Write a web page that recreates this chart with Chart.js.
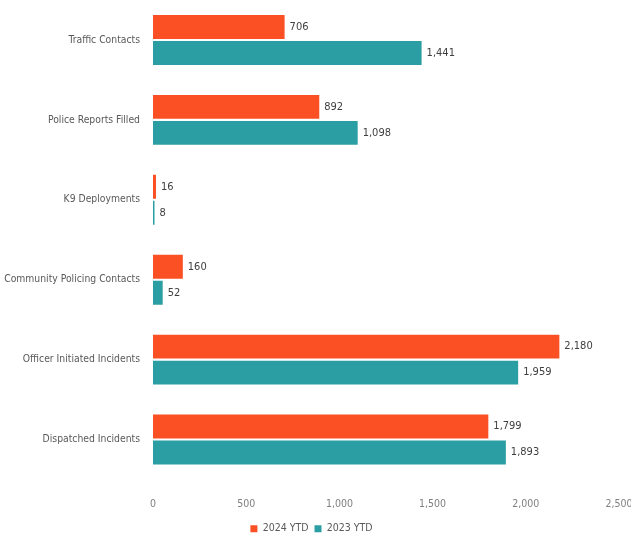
<!DOCTYPE html>
<html>
<head>
<meta charset="utf-8">
<script src="https://cdn.jsdelivr.net/npm/chart.js@4"></script>
<style>
  html, body { margin: 0; padding: 0; background: #fff; }
  #wrap { width: 631px; height: 543px; }
</style>
</head>
<body>
<div id="wrap"><canvas id="myChart" width="631" height="543"></canvas></div>
<script>
const categories = [
  "Traffic Contacts",
  "Police Reports Filled",
  "K9 Deployments",
  "Community Policing Contacts",
  "Officer Initiated Incidents",
  "Dispatched Incidents",
];
const ytd2024 = [706, 892, 16, 160, 2180, 1799];
const ytd2023 = [1441, 1098, 8, 52, 1959, 1893];
const xTicks = [0, 500, 1000, 1500, 2000, 2500];

const orange = "#fb4f24";
const teal = "#2a9ea2";
const fontFam = "'DejaVu Sans Condensed', 'Liberation Sans', sans-serif";

// writes the value at the end of each bar
const barValues = {
  id: "barValues",
  afterDatasetsDraw(chart) {
    const ctx = chart.ctx;
    ctx.save();
    ctx.font = "11px " + fontFam;
    ctx.fillStyle = "#404040";
    ctx.textBaseline = "middle";
    ctx.textAlign = "left";
    chart.data.datasets.forEach((ds, i) => {
      chart.getDatasetMeta(i).data.forEach((bar, j) => {
        ctx.fillText(ds.data[j].toLocaleString("en-US"), bar.x + 5, bar.y);
      });
    });
    ctx.restore();
  },
};

new Chart("myChart", {
  type: "bar",
  data: {
    labels: categories,
    datasets: [
      { label: "2024 YTD", data: ytd2024, backgroundColor: orange },
      { label: "2023 YTD", data: ytd2023, backgroundColor: teal },
    ],
  },
  options: {
    indexAxis: "y",
    responsive: false,
    animation: false,
    categoryPercentage: 0.65,
    barPercentage: 0.92,
    layout: { padding: { top: -2, right: 12, left: 4, bottom: -1 } },
    scales: {
      x: {
        min: 0,
        max: 2500,
        afterBuildTicks: (axis) => {
          axis.ticks = xTicks.map((v) => ({ value: v }));
        },
        afterFit: (axis) => {
          axis.height = 38;
          axis.paddingRight = 0;
        },
        grid: { display: false },
        border: { display: false },
        ticks: {
          color: "#7f7f7f",
          padding: 10,
          font: { family: fontFam, size: 10.5 },
          callback: (v) => v.toLocaleString("en-US"),
        },
      },
      y: {
        afterFit: (axis) => {
          axis.width = 149;
          axis.paddingTop = -2;
          axis.paddingBottom = 0;
        },
        grid: { display: false, tickLength: 13 },
        border: { display: false },
        ticks: {
          color: "#595959",
          padding: 0,
          font: { family: fontFam, size: 10.3 },
        },
      },
    },
    plugins: {
      legend: {
        position: "bottom",
        labels: {
          boxWidth: 7,
          boxHeight: 7,
          padding: 6,
          color: "#595959",
          font: { family: fontFam, size: 10.5 },
        },
      },
      tooltip: { enabled: false },
    },
  },
  plugins: [barValues],
});
</script>
</body>
</html>
